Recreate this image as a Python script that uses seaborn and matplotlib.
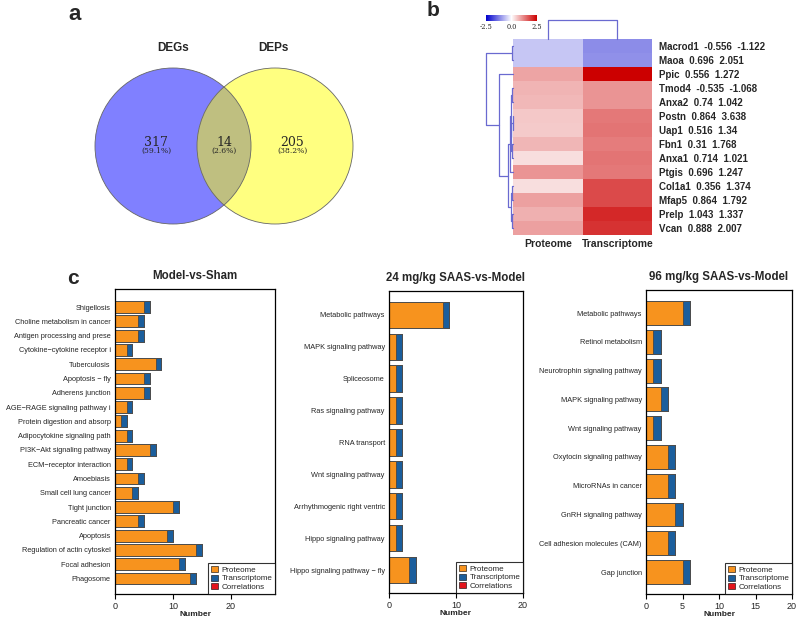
import numpy as np
import pandas as pd
import matplotlib
matplotlib.use("Agg")
import matplotlib.pyplot as plt
import seaborn as sns
from matplotlib.patches import Circle, Patch
from matplotlib.colors import LinearSegmentedColormap

# ---------------- data ----------------
venn_names = ["DEGs", "DEPs"]
venn_counts = [317, 14, 205]          # DEGs only, both, DEPs only

genes = ["Macrod1", "Maoa", "Ppic", "Tmod4", "Anxa2", "Postn", "Uap1", "Fbn1",
         "Anxa1", "Ptgis", "Col1a1", "Mfap5", "Prelp", "Vcan"]
label_prot = ["-0.556", "0.696", "0.556", "-0.535", "0.74", "0.864", "0.516", "0.31",
              "0.714", "0.696", "0.356", "0.864", "1.043", "0.888"]
label_rna = ["-1.122", "2.051", "1.272", "-1.068", "1.042", "3.638", "1.34", "1.768",
             "1.021", "1.247", "1.374", "1.792", "1.337", "2.007"]
heat_proteome = [-0.55, -0.55, 0.88, 0.73, 0.70, 0.54, 0.52, 0.72, 0.32, 1.05, 0.32, 0.93, 0.77, 0.93]
heat_transcriptome = [-1.12, -1.09, 2.5, 1.05, 1.05, 1.32, 1.35, 1.28, 1.35, 1.32, 1.77, 1.77, 2.09, 2.0]
heat_columns = ["Proteome", "Transcriptome"]

# row clustering tree (leaf indices, merge height)
row_tree = ((0, 1, 0.04),
            (2, ((((3, 4, 0.04), ((5, 6, 0.01), (7, 8, 0.05), 0.07), 0.09), 9, 0.12),
                 ((10, 11, 0.05), (12, 13, 0.03), 0.08), 0.19), 0.52),
            1.0)
col_tree = (0, 1, 1.0)

ms_terms = ["Shigellosis", "Choline metabolism in cancer", "Antigen processing and prese",
            "Cytokine\u2212cytokine receptor i", "Tuberculosis", "Apoptosis \u2212 fly",
            "Adherens junction", "AGE\u2212RAGE signaling pathway i", "Protein digestion and absorp",
            "Adipocytokine signaling path", "PI3K\u2212Akt signaling pathway", "ECM\u2212receptor interaction",
            "Amoebiasis", "Small cell lung cancer", "Tight junction", "Pancreatic cancer",
            "Apoptosis", "Regulation of actin cytoskel", "Focal adhesion", "Phagosome"]
ms_prot = [5, 4, 4, 2, 7, 5, 5, 2, 1, 2, 6, 2, 4, 3, 10, 4, 9, 14, 11, 13]
ms_trans = [1] * 20
ms_corr = [0] * 20

s24_terms = ["Metabolic pathways", "MAPK signaling pathway", "Spliceosome", "Ras signaling pathway",
             "RNA transport", "Wnt signaling pathway", "Arrhythmogenic right ventric",
             "Hippo signaling pathway", "Hippo signaling pathway \u2212 fly"]
s24_prot = [8, 1, 1, 1, 1, 1, 1, 1, 3]
s24_trans = [1, 1, 1, 1, 1, 1, 1, 1, 1]
s24_corr = [0] * 9

s96_terms = ["Metabolic pathways", "Retinol metabolism", "Neurotrophin signaling pathway",
             "MAPK signaling pathway", "Wnt signaling pathway", "Oxytocin signaling pathway",
             "MicroRNAs in cancer", "GnRH signaling pathway", "Cell adhesion molecules (CAM)",
             "Gap junction"]
s96_prot = [5, 1, 1, 2, 1, 3, 3, 4, 3, 5]
s96_trans = [1] * 10
s96_corr = [0] * 10

# ---------------- style ----------------
sns.set_theme(style="white")
plt.rcParams["font.family"] = ["Liberation Sans", "DejaVu Sans"]

W, H = 798, 621
fig = plt.figure(figsize=(W / 100, H / 100), dpi=100)


def px_axes(l, t, r, b):
    return fig.add_axes([l / W, 1 - b / H, (r - l) / W, (b - t) / H])


def ftext(x, y, s, **kw):
    fig.text(x / W, 1 - y / H, s, **kw)


# ---------------- panel a: Venn ----------------
ax_v = px_axes(0, 0, 400, 250)
ax_v.set_xlim(0, 400)
ax_v.set_ylim(250, 0)
ax_v.axis("off")
r = 78
ca, cb, cy = 173, 275, 146
circ_a = Circle((ca, cy), r, fc="#8080FF", ec="none")
circ_b = Circle((cb, cy), r, fc="#FFFF80", ec="none")
ax_v.add_patch(circ_a)
ax_v.add_patch(circ_b)
inter = Circle((cb, cy), r, fc="#BFBF80", ec="none")
ax_v.add_patch(inter)
inter.set_clip_path(circ_a)
for cx in (ca, cb):
    ax_v.add_patch(Circle((cx, cy), r, fc="none", ec="#666666", lw=0.6))
tot = sum(venn_counts)
xs = [156, 224, 292]
for x, c in zip(xs, venn_counts):
    ax_v.text(x, 142, str(c), ha="center", va="center", fontsize=9, family="DejaVu Serif")
    ax_v.text(x, 151, "(%.1f%%)" % (100 * c / tot), ha="center", va="center", fontsize=5.5,
              family="DejaVu Serif")
ax_v.text(ca, 48, venn_names[0], ha="center", va="center", fontsize=8.5, fontweight="bold")
ax_v.text(cb - 2, 48, venn_names[1], ha="center", va="center", fontsize=8.5, fontweight="bold")

# ---------------- panel b: heatmap ----------------
cmap = LinearSegmentedColormap.from_list("bwr_r", ["#0000CC", "#FFFFFF", "#CC0000"])
df_h = pd.DataFrame({heat_columns[0]: heat_proteome, heat_columns[1]: heat_transcriptome}, index=genes)
row_labels = ["%s  %s  %s" % (g, p, t) for g, p, t in zip(genes, label_prot, label_rna)]
ax_h = px_axes(513, 39, 652, 235)
cax = px_axes(486, 15, 537, 21)
sns.heatmap(df_h, ax=ax_h, cmap=cmap, vmin=-2.5, vmax=2.5, cbar_ax=cax,
            cbar_kws={"orientation": "horizontal", "ticks": [-2.5, 0, 2.5]},
            xticklabels=heat_columns, yticklabels=row_labels)
ax_h.yaxis.tick_right()
ax_h.set_yticklabels(row_labels, rotation=0, fontsize=7, fontweight="bold")
ax_h.set_xticklabels(heat_columns, rotation=0, fontsize=7.5, fontweight="bold")
ax_h.tick_params(axis="y", length=0, pad=5)
ax_h.tick_params(axis="x", length=0, pad=3)
ax_h.set_xlabel("")
ax_h.set_ylabel("")
cbar = ax_h.collections[0].colorbar
cbar.outline.set_visible(False)
cax.set_xticklabels(["-2.5", "0.0", "2.5"])
cax.tick_params(length=0, labelsize=4.8, pad=1.5)
for t in cax.get_xticklabels():
    t.set_family("DejaVu Serif")

dcol = "#6A6AD0"


def draw_tree(ax, node, orient):
    if isinstance(node, int):
        return node + 0.5, 0.0
    left, right, h = node
    p1, h1 = draw_tree(ax, left, orient)
    p2, h2 = draw_tree(ax, right, orient)
    hs = [h1, h, h, h2]
    ps = [p1, p1, p2, p2]
    if orient == "left":
        ax.plot(hs, ps, color=dcol, lw=0.9, clip_on=False)
    else:
        ax.plot(ps, hs, color=dcol, lw=0.9, clip_on=False)
    return (p1 + p2) / 2, h


ax_rd = px_axes(486, 39, 513, 235)
draw_tree(ax_rd, row_tree, "left")
ax_rd.set_xlim(1.0, 0.0)
ax_rd.set_ylim(len(genes), 0)
ax_rd.axis("off")

ax_cd = px_axes(513, 20, 652, 39)
draw_tree(ax_cd, col_tree, "top")
ax_cd.set_xlim(0, 2)
ax_cd.set_ylim(0, 1.0)
ax_cd.axis("off")

# ---------------- panel c: bar charts ----------------
c_prot = "#F7931E"
c_trans = "#1B5E9C"
c_corr = "#E3141C"


def bar_panel(rect, terms, prot, trans, corr, title, xmax, ticks, pads):
    ax = px_axes(*rect)
    p = np.array(prot, float)
    t = np.array(trans, float)
    c = np.array(corr, float)
    for vals, col in ((p + t + c, c_corr), (p + t, c_trans), (p, c_prot)):
        sns.barplot(x=vals, y=terms, order=terms, orient="h", color=col, saturation=1,
                    width=0.83, edgecolor="#4d4d4d", linewidth=0.7, ax=ax)
    n = len(terms)
    ax.set_xlim(0, xmax)
    ax.set_ylim(n - 1 + pads[1], -pads[0])
    ax.set_xticks(ticks)
    ax.set_xticklabels([str(v) for v in ticks])
    for s in ax.spines.values():
        s.set_visible(True)
        s.set_color("black")
        s.set_linewidth(0.9)
    ax.tick_params(axis="x", direction="out", length=3.5, width=0.8, color="black",
                   labelsize=6.5, pad=2, bottom=True)
    ax.tick_params(axis="y", length=0, labelsize=5.3, pad=3)
    ax.set_xlabel("Number", fontsize=6, fontweight="bold", labelpad=0)
    ax.set_ylabel("")
    ax.set_title(title, fontsize=8.3, fontweight="bold", pad=7)
    handles = [Patch(fc=c_prot, ec="black", lw=0.4), Patch(fc=c_trans, ec="black", lw=0.4),
               Patch(fc=c_corr, ec="black", lw=0.4)]
    leg = ax.legend(handles, ["Proteome", "Transcriptome", "Correlations"], loc="lower right",
                    borderaxespad=0, fontsize=5.8, frameon=True, fancybox=False,
                    handlelength=0.9, handleheight=0.75, handletextpad=0.4,
                    borderpad=0.35, labelspacing=0.12)
    leg.get_frame().set_edgecolor("black")
    leg.get_frame().set_linewidth(0.8)
    return ax


bar_panel((115, 289, 275, 594), ms_terms, ms_prot, ms_trans, ms_corr, "Model-vs-Sham",
          27.6, [0, 10, 20], (1.27, 1.09))
bar_panel((389, 291, 523, 593), s24_terms, s24_prot, s24_trans, s24_corr,
          "24 mg/kg SAAS-vs-Model", 20, [0, 10, 20], (0.75, 0.72))
bar_panel((646, 290, 792, 594), s96_terms, s96_prot, s96_trans, s96_corr,
          "96 mg/kg SAAS-vs-Model", 20, [0, 5, 10, 15, 20], (0.8, 0.76))

# ---------------- panel letters ----------------
ftext(75, 14, "a", fontsize=16, fontweight="bold", ha="center", va="center")
ftext(433, 11, "b", fontsize=15, fontweight="bold", ha="center", va="center")
ftext(73, 278, "c", fontsize=15, fontweight="bold", ha="center", va="center")

fig.savefig("out.png", dpi=100)
